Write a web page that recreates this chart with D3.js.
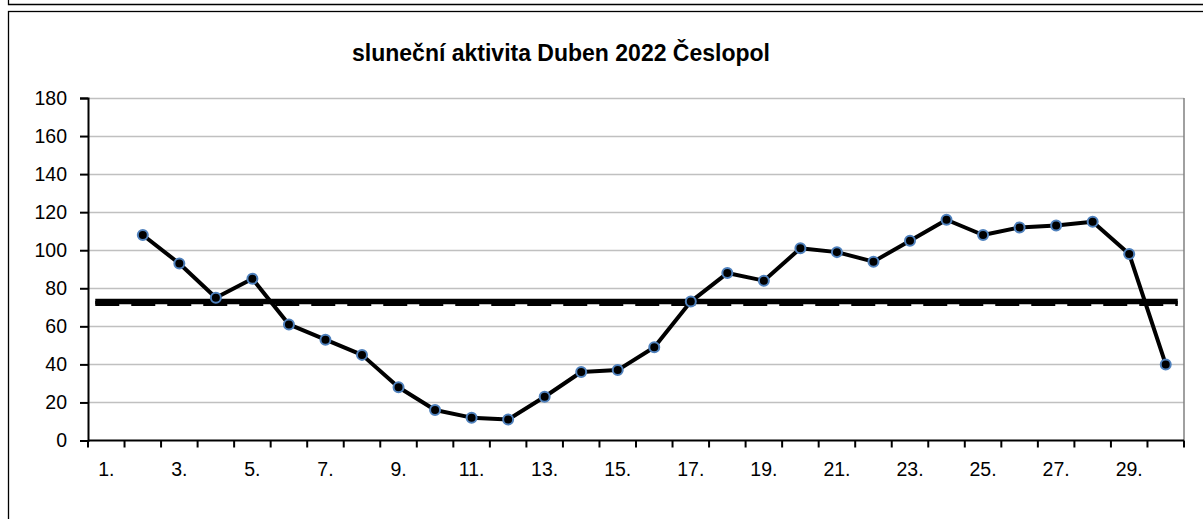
<!DOCTYPE html>
<html><head><meta charset="utf-8">
<script src="https://cdn.jsdelivr.net/npm/d3@7"></script>
<style>body{margin:0;background:#fff}svg{display:block}</style>
</head><body>
<script>
const title = "sluneční aktivita Duben 2022 Česlopol";
const days = d3.range(1, 31).map(d => d + ".");
const values = [null,108,93,75,85,61,53,45,28,16,12,11,23,36,37,49,73,88,84,101,99,94,105,116,108,112,113,115,98,40];
const avgSolid = 73;
const avgDashed = 72;
const yTicks = [0,20,40,60,80,100,120,140,160,180];

const W = 1203, H = 519;
const svg = d3.select("body").append("svg").attr("width", W).attr("height", H);
const font = "Liberation Sans, Arial, sans-serif";

// frames
svg.append("path").attr("d", "M8.5,0 V4.5 H1203").attr("fill","none").attr("stroke","#000").attr("stroke-width",1.3);
svg.append("rect").attr("x",8.5).attr("y",11.5).attr("width",1220).attr("height",540).attr("fill","none").attr("stroke","#000").attr("stroke-width",1.3);

const m = {l: 88, r: 1184, t: 98, b: 440.5};
const x = d3.scaleBand().domain(days).range([m.l, m.r]).padding(0);
const y = d3.scaleLinear().domain([0,180]).range([m.b, m.t]);

svg.append("text").attr("x", 561).attr("y", 61).attr("text-anchor","middle")
  .attr("font-family", font).attr("font-weight","bold").attr("font-size",23).text(title);

// gridlines
svg.append("g").selectAll("line").data(yTicks.filter(v => v > 0)).join("line")
  .attr("x1", m.l).attr("x2", m.r).attr("y1", d => Math.round(y(d))+0.5).attr("y2", d => Math.round(y(d))+0.5)
  .attr("stroke","#c0c0c0").attr("stroke-width",1.5);
// right border of plot
svg.append("line").attr("x1", m.r).attr("x2", m.r).attr("y1", y(180)).attr("y2", m.b).attr("stroke","#808080").attr("stroke-width",1.5);

// y axis
const yAxis = svg.append("g").attr("transform", `translate(${m.l},0)`)
  .call(d3.axisLeft(y).tickValues(yTicks).tickSize(8).tickPadding(6));
yAxis.select(".domain").attr("stroke","#000").attr("stroke-width",2);
yAxis.selectAll(".tick line").attr("stroke","#000").attr("stroke-width",2);
yAxis.selectAll("text").attr("font-family", font).attr("font-size",19.5).attr("fill","#000").attr("dx", "-7");

// x axis
const xAxisG = svg.append("g").attr("transform", `translate(0,${m.b})`);
xAxisG.append("line").attr("x1", m.l).attr("x2", m.r).attr("stroke","#000").attr("stroke-width",2);
const tickPos = days.map(d => x(d)).concat([x(days[days.length-1]) + x.bandwidth()]);
xAxisG.selectAll("line.tk").data(tickPos).join("line").attr("class","tk")
  .attr("x1", d => d).attr("x2", d => d).attr("y1", 0).attr("y2", 7).attr("stroke","#000").attr("stroke-width",2);
xAxisG.selectAll("text").data(days.filter((d,i) => i % 2 === 0)).join("text")
  .attr("x", d => x(d) + x.bandwidth()/2).attr("y", 35.5).attr("text-anchor","middle")
  .attr("font-family", font).attr("font-size",19.5).text(d => d);

// average lines
const ax1 = x(days[0]) + x.bandwidth()/2 - 11;
const ax2 = x(days[29]) + x.bandwidth()/2 + 12;
svg.append("line").attr("x1", ax1).attr("x2", ax2).attr("y1", y(avgDashed)).attr("y2", y(avgDashed))
  .attr("stroke","#000").attr("stroke-width",5).attr("stroke-dasharray","24,12");
svg.append("line").attr("x1", ax1).attr("x2", ax2).attr("y1", y(avgSolid)).attr("y2", y(avgSolid))
  .attr("stroke","#000").attr("stroke-width",5.5);

// data line
const pts = days.map((d,i) => ({d, v: values[i]})).filter(p => p.v !== null);
const line = d3.line().x(p => x(p.d) + x.bandwidth()/2).y(p => y(p.v));
svg.append("path").datum(pts).attr("d", line).attr("fill","none").attr("stroke","#000").attr("stroke-width",4).attr("stroke-linejoin","round");
svg.append("g").selectAll("circle").data(pts).join("circle")
  .attr("cx", p => x(p.d) + x.bandwidth()/2).attr("cy", p => y(p.v)).attr("r", 5)
  .attr("fill","#000").attr("stroke","#4f81bd").attr("stroke-width",2);
</script>
</body></html>
